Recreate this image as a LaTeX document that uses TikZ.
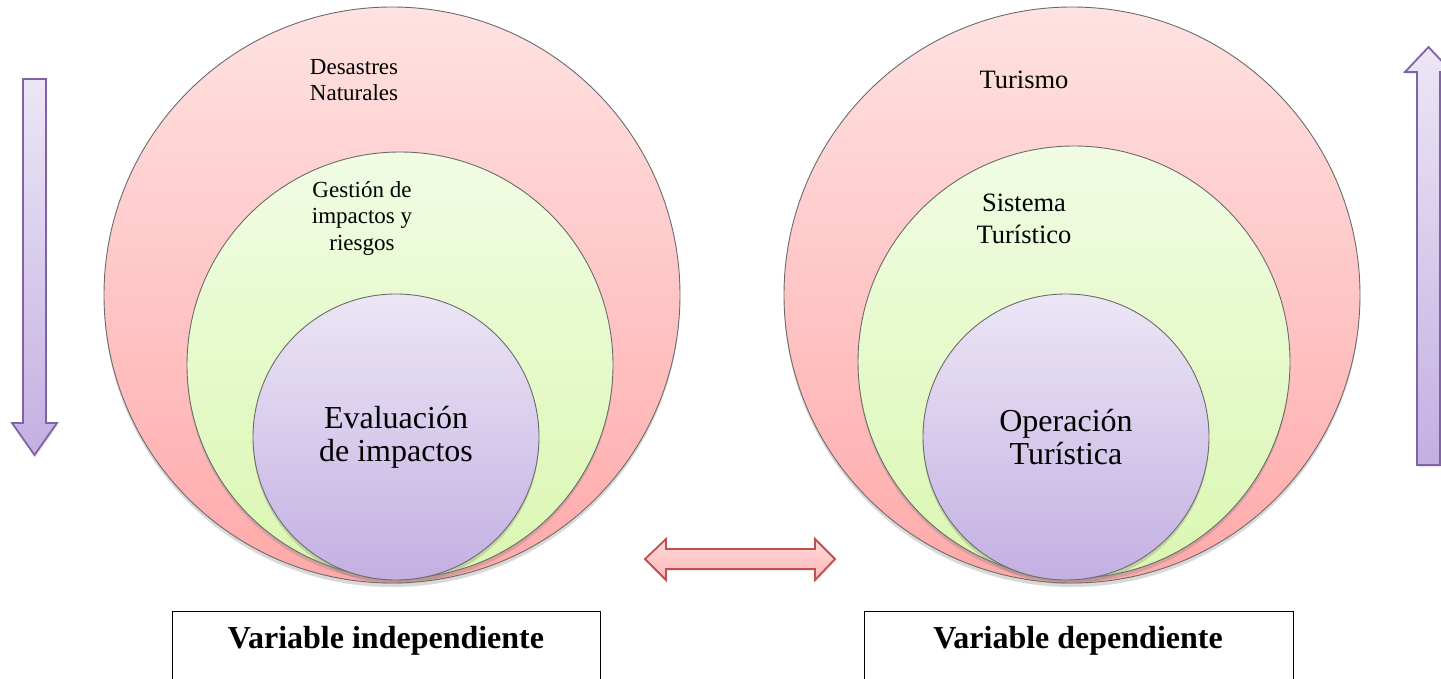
\documentclass[tikz,border=0pt]{standalone}
\usepackage{fontspec}
\setmainfont{Liberation Serif}
\usetikzlibrary{shadows}
\definecolor{redtop}{HTML}{FFE2E2}
\definecolor{redbot}{HTML}{FFA9A9}
\definecolor{grntop}{HTML}{F1FCE4}
\definecolor{grnbot}{HTML}{DAF7B0}
\definecolor{purtop}{HTML}{ECE6F6}
\definecolor{purbot}{HTML}{C3B0E2}
\definecolor{ringline}{HTML}{6B6B6B}
\definecolor{arrline}{HTML}{8064A2}
\definecolor{dblline}{HTML}{C0504D}
\definecolor{dbltop}{HTML}{FFD9D9}
\definecolor{dblbot}{HTML}{FFB8B8}
\tikzset{
  ring/.style={circle, inner sep=0pt, draw=ringline, line width=0.9pt,
    drop shadow={opacity=0.3, shadow xshift=0pt, shadow yshift=-4pt}},
  redring/.style={ring, top color=redtop, bottom color=redbot},
  grnring/.style={ring, top color=grntop, bottom color=grnbot},
  purring/.style={ring, top color=purtop, bottom color=purbot},
  lbl/.style={align=center, inner sep=0pt},
  small/.style={font=\fontsize{23}{26.5}\selectfont},
  mid/.style={font=\fontsize{26.5}{32}\selectfont},
  big/.style={font=\fontsize{32}{33}\selectfont},
  varbox/.style={draw=black, line width=0.9pt, fill=white},
  varlbl/.style={font=\bfseries\fontsize{32}{34}\selectfont, inner sep=0pt},
  purarrow/.style={draw=arrline, line width=1.8pt, line join=miter, top color=purtop, bottom color=purbot,
    drop shadow={opacity=0.2, shadow xshift=1pt, shadow yshift=-2pt}},
  dblarrow/.style={draw=dblline, line width=1.8pt, line join=miter, top color=dbltop, bottom color=dblbot,
    drop shadow={opacity=0.2, shadow xshift=1pt, shadow yshift=-2pt}}
}
\begin{document}
\begin{tikzpicture}[x=1pt,y=-1pt]
\useasboundingbox (0,0) rectangle (1441,679);
% left rings
\node[redring, minimum size=576pt] (lred) at (392,295) {};
\node[grnring, minimum size=426pt] (lgrn) at (400,365) {};
\node[purring, minimum size=286pt] (lpur) at (396,437) {};
\node[lbl, small] (ltxt1) at (354,80) {Desastres\\Naturales};
\node[lbl, small] (ltxt2) at (362,218) {Gestión de\\impactos y\\riesgos};
\node[lbl, big] (ltxt3) at (396,437) {Evaluación\\de impactos};
% right rings
\node[redring, minimum size=576pt] (rred) at (1072,295) {};
\node[grnring, minimum size=432pt] (rgrn) at (1074,362) {};
\node[purring, minimum size=286pt] (rpur) at (1066,437) {};
\node[lbl, mid] (rtxt1) at (1024,80) {Turismo};
\node[lbl, mid] (rtxt2) at (1024,219) {Sistema\\Turístico};
\node[lbl, big] (rtxt3) at (1066,437) {Operación\\Turística};
% down arrow (left)
\path[purarrow] (23,79) -- (46,79) -- (46,423) -- (57,423) -- (34.5,455) -- (12,423) -- (23,423) -- cycle;
% up arrow (right)
\path[purarrow] (1417,465) -- (1440,465) -- (1440,72) -- (1452,72) -- (1428.5,47) -- (1405,72) -- (1417,72) -- cycle;
% double arrow
\path[dblarrow] (645,559) -- (666,539) -- (666,549) -- (815,549) -- (815,539) -- (835,559) -- (815,580) -- (815,569) -- (666,569) -- (666,580) -- cycle;
% boxes
\node[varbox, minimum width=428pt, minimum height=74pt, anchor=north west] (lbox) at (172,611) {};
\node[varbox, minimum width=429pt, minimum height=74pt, anchor=north west] (rbox) at (864,611) {};
\node[varlbl] (lvar) at (386,641) {Variable independiente};
\node[varlbl] (rvar) at (1078,641) {Variable dependiente};
\end{tikzpicture}
\end{document}
